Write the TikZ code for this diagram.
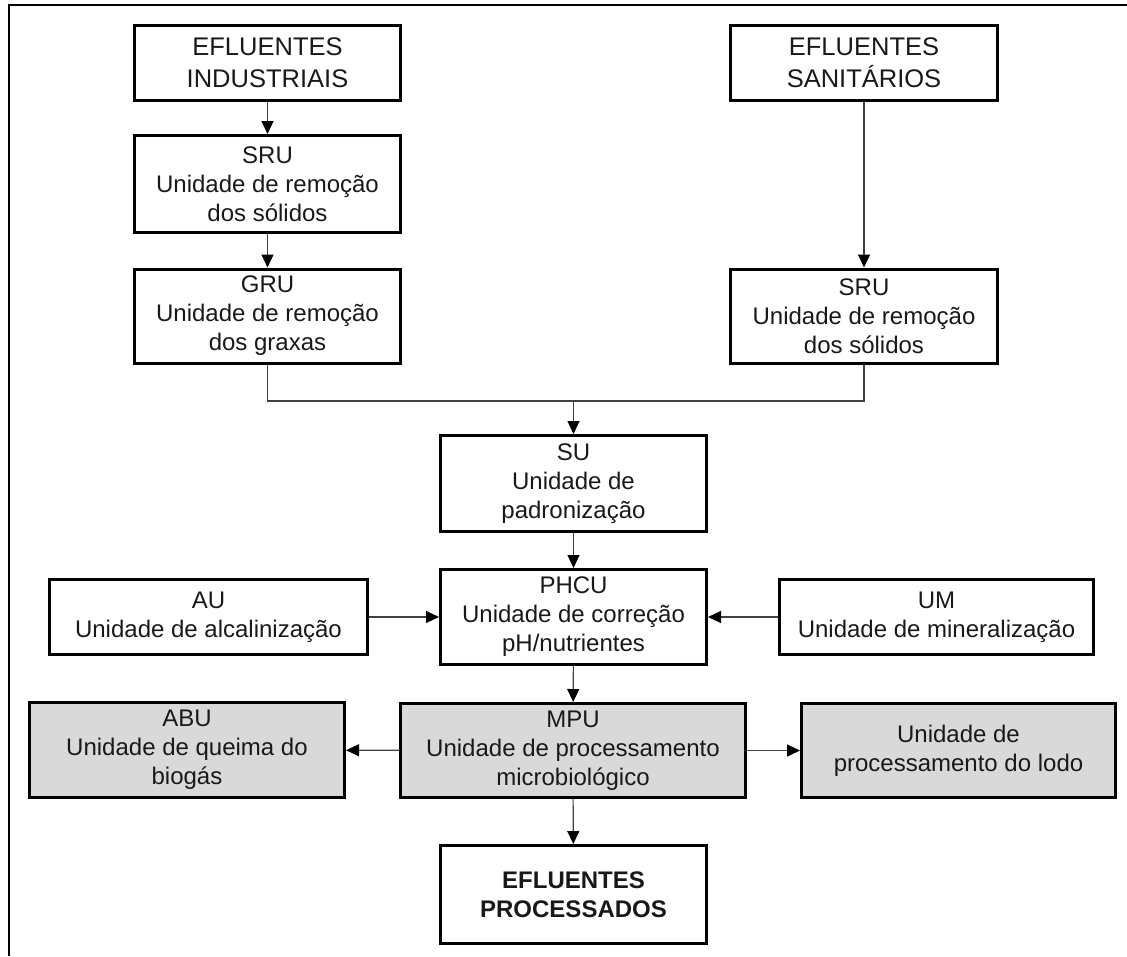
\documentclass[tikz,border=0pt]{standalone}
\usepackage{fontspec}
\setmainfont{Liberation Sans}
\usetikzlibrary{arrows.meta}
\definecolor{boxgray}{HTML}{D9D9D9}
\definecolor{linegray}{HTML}{404040}
\begin{document}
\begin{tikzpicture}[x=1pt,y=-1pt,
  unit/.style={draw=black, line width=3pt, fill=white, align=center, inner sep=0pt,
    text=black!90, font=\fontsize{24}{29}\selectfont},
  head/.style={unit, font=\fontsize{25.5}{32}\selectfont},
  shaded/.style={unit, fill=boxgray},
  link/.style={draw=linegray, line width=1.1pt},
  flow/.style={link, -{Triangle[length=13pt,width=12pt,color=black]}}]
\useasboundingbox (0,0) rectangle (1127,956);
% frame (top and left edges)
\draw[line width=2.2pt] (1127,5) -- (9,5) -- (9,956);

% sources
\node[head, minimum width=266pt, minimum height=75pt] (ei) at (267.5,63) {EFLUENTES\\INDUSTRIAIS};
\node[head, minimum width=267pt, minimum height=75pt] (es) at (864,63) {EFLUENTES\\SANITÁRIOS};

% pre-treatment
\node[unit, minimum width=266pt, minimum height=97pt] (sru1) at (267.5,184) {SRU\\Unidade de remoção\\dos sólidos};
\node[unit, minimum width=266pt, minimum height=94pt] (gru) at (267.5,316) {GRU\\Unidade de remoção\\dos graxas};
\node[unit, minimum width=267pt, minimum height=94pt] (sru2) at (864,316) {SRU\\Unidade de remoção\\dos sólidos};

% standardisation and correction
\node[unit, minimum width=266pt, minimum height=96pt] (su) at (573.5,483.5) {SU\\Unidade de\\padronização};
\node[unit, minimum width=266pt, minimum height=95pt] (phcu) at (573.5,617) {PHCU\\Unidade de correção\\pH/nutrientes};
\node[unit, minimum width=318pt, minimum height=75pt] (au) at (208.5,617) {AU\\Unidade de alcalinização};
\node[unit, minimum width=314pt, minimum height=75pt] (um) at (936.5,617) {UM\\Unidade de mineralização};

% processing
\node[shaded, minimum width=315pt, minimum height=95pt] (abu) at (187,750) {ABU\\Unidade de queima do\\biogás};
\node[shaded, minimum width=345pt, minimum height=94pt] (mpu) at (573,750.5) {MPU\\Unidade de processamento\\microbiológico};
\node[shaded, minimum width=314pt, minimum height=94pt] (lodo) at (958.5,750.5) {Unidade de\\processamento do lodo};
\node[unit, minimum width=266pt, minimum height=98pt, font=\fontsize{24}{29}\selectfont\bfseries] (ep) at (573.5,894.5) {EFLUENTES\\PROCESSADOS};

% connectors
\coordinate (join) at (573.5,401);
\draw[flow] (ei) -- (sru1);
\draw[flow] (sru1) -- (gru);
\draw[flow] (es) -- (sru2);
\draw[link] (gru.south) |- (join);
\draw[link] (sru2.south) |- (join);
\draw[flow] (join) -- (su.north);
\draw[flow] (su) -- (phcu);
\draw[flow] (au) -- (phcu);
\draw[flow] (um) -- (phcu);
\draw[flow] (phcu) -- (mpu);
\draw[flow] (mpu) -- (abu);
\draw[flow] (mpu) -- (lodo);
\draw[flow] (mpu) -- (ep);
\end{tikzpicture}
\end{document}
